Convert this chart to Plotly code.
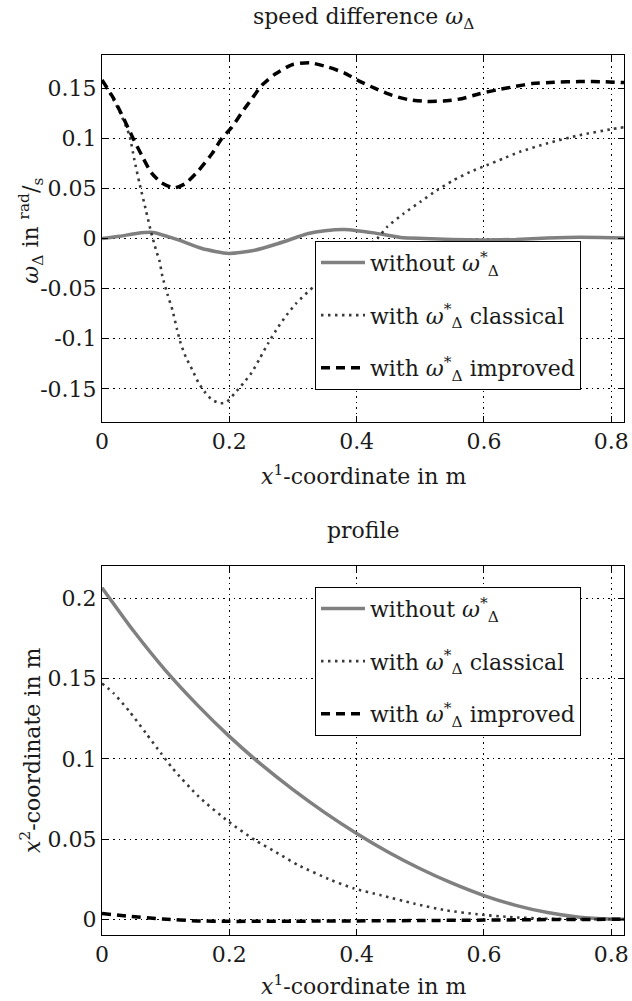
import plotly.graph_objects as go

# ---------------- data ----------------
# top panel: speed difference
top_x_without = [0, 0.028, 0.054, 0.08, 0.105, 0.121, 0.157, 0.199, 0.24, 0.277, 0.305, 0.324, 0.35, 0.381,
                 0.427, 0.469, 0.506, 0.55, 0.6, 0.65, 0.7, 0.75, 0.8, 0.82]
top_y_without = [0, 0.0023, 0.005, 0.006, 0.0016, -0.0017, -0.010, -0.0149, -0.0117, -0.005, 0.001, 0.005, 0.0078,
                 0.009, 0.0056, 0.001, 0.0, -0.001, -0.0015, -0.001, 0.0004, 0.0012, 0.0008, 0.0005]

top_x_classical = [0, 0.015, 0.028, 0.043, 0.051, 0.059, 0.069, 0.077, 0.082, 0.0857, 0.09, 0.095, 0.103, 0.1106,
                   0.118, 0.1236, 0.1315, 0.1418, 0.152, 0.1626, 0.173, 0.186, 0.196, 0.209, 0.222, 0.235, 0.248,
                   0.261, 0.277, 0.29, 0.305, 0.335, 0.36, 0.38, 0.40, 0.42, 0.4325, 0.448, 0.474, 0.5, 0.526,
                   0.552, 0.578, 0.604, 0.63, 0.656, 0.7, 0.75, 0.8, 0.82]
top_y_classical = [0.157, 0.142, 0.126, 0.103, 0.078, 0.0548, 0.0282, 0.0066, -0.005, -0.0133, -0.0216, -0.038,
                   -0.056, -0.0714, -0.091, -0.1046, -0.118, -0.131, -0.1444, -0.154, -0.161, -0.1643, -0.163,
                   -0.154, -0.1444, -0.134, -0.1195, -0.1046, -0.088, -0.0764, -0.0647, -0.0465, -0.034, -0.025,
                   -0.015, -0.006, 0.0, 0.0116, 0.0249, 0.0365, 0.048, 0.058, 0.0663, 0.073, 0.0797, 0.0863, 0.095,
                   0.103, 0.109, 0.111]

top_x_improved = [0, 0.017, 0.033, 0.048, 0.064, 0.077, 0.0925, 0.113, 0.131, 0.152, 0.173, 0.188, 0.204, 0.22,
                  0.235, 0.251, 0.272, 0.298, 0.326, 0.355, 0.381, 0.404, 0.43, 0.456, 0.482, 0.51, 0.536, 0.565,
                  0.593, 0.622, 0.65, 0.676, 0.71, 0.75, 0.79, 0.82]
top_y_improved = [0.158, 0.141, 0.121, 0.101, 0.081, 0.066, 0.056, 0.0504, 0.0548, 0.068, 0.0847, 0.0996, 0.111,
                  0.126, 0.139, 0.1527, 0.164, 0.1732, 0.1753, 0.171, 0.165, 0.157, 0.1494, 0.1427, 0.1384, 0.1367,
                  0.137, 0.1394, 0.1444, 0.1484, 0.1517, 0.1545, 0.1558, 0.1565, 0.1563, 0.1555]

# bottom panel: profile
bot_x_without = [0, 0.05, 0.1, 0.15, 0.2, 0.25, 0.3, 0.35, 0.4, 0.45, 0.5, 0.55, 0.6, 0.65, 0.7, 0.75, 0.8, 0.82]
bot_y_without = [0.2067, 0.1795, 0.1550, 0.1335, 0.1140, 0.0965, 0.0808, 0.0665, 0.0535, 0.0418, 0.0315, 0.0225,
                 0.0148, 0.0087, 0.0042, 0.0013, 0.0001, 0.0]

bot_x_classical = [0, 0.018, 0.043, 0.069, 0.0925, 0.111, 0.152, 0.199, 0.24, 0.277, 0.308, 0.36, 0.396, 0.438,
                   0.49, 0.54, 0.59, 0.64, 0.7, 0.75, 0.8, 0.82]
bot_y_classical = [0.147, 0.141, 0.1296, 0.116, 0.1036, 0.094, 0.0764, 0.0608, 0.0494, 0.041, 0.0338, 0.0244,
                   0.0192, 0.015, 0.0098, 0.0056, 0.0031, 0.0014, 0.0003, 0.0, 0.0, 0.0]

bot_x_improved = [0, 0.038, 0.0955, 0.15, 0.2, 0.3, 0.4, 0.5, 0.6, 0.7, 0.82]
bot_y_improved = [0.0036, 0.0021, 0.0002, -0.001, -0.0013, -0.0012, -0.0010, -0.0008, -0.0005, -0.0002, 0.0]

x_ticks = [0, 0.2, 0.4, 0.6, 0.8]
x_ticklabels = ["0", "0.2", "0.4", "0.6", "0.8"]
top_y_ticks = [-0.15, -0.1, -0.05, 0, 0.05, 0.1, 0.15]
top_y_ticklabels = ["-0.15", "-0.1", "-0.05", "0", "0.05", "0.1", "0.15"]
bot_y_ticks = [0, 0.05, 0.1, 0.15, 0.2]
bot_y_ticklabels = ["0", "0.05", "0.1", "0.15", "0.2"]

legend_names = ["without <i>ω</i><sup>*</sup><sub>Δ</sub>",
                "with <i>ω</i><sup>*</sup><sub>Δ</sub> classical",
                "with <i>ω</i><sup>*</sup><sub>Δ</sub> improved"]

# ---------------- styling ----------------
FONT = "DejaVu Serif"
TXT = "#1a1a1a"
GRAY = "#808080"
DOTC = "#3a3a3a"
styles = [dict(color=GRAY, width=3.5, shape="spline", smoothing=0.6),
          dict(color=DOTC, width=2.6, dash="2.5px,4.5px", shape="spline", smoothing=0.6),
          dict(color="black", width=3.5, dash="9px,6px", shape="spline", smoothing=0.6)]

fig = go.Figure()
top_series = [(top_x_without, top_y_without), (top_x_classical, top_y_classical), (top_x_improved, top_y_improved)]
bot_series = [(bot_x_without, bot_y_without), (bot_x_classical, bot_y_classical), (bot_x_improved, bot_y_improved)]

for i, (xs, ys) in enumerate(top_series):
    fig.add_trace(go.Scatter(x=xs, y=ys, mode="lines", name=legend_names[i], line=styles[i],
                             xaxis="x", yaxis="y", legend="legend", legendgroup="t%d" % i))
for i, (xs, ys) in enumerate(bot_series):
    fig.add_trace(go.Scatter(x=xs, y=ys, mode="lines", name=legend_names[i], line=styles[i],
                             xaxis="x2", yaxis="y2", legend="legend2", legendgroup="b%d" % i))

axis_common = dict(showline=True, linecolor="black", linewidth=1, mirror="ticks", ticks="inside", ticklen=6,
                   tickcolor="black", showgrid=True, gridcolor="black", gridwidth=1, griddash="1.5px,4px",
                   zeroline=False, ticklabeloverflow="allow", tickfont=dict(family=FONT, size=22, color=TXT))

top_dom = [0.583, 1.0]
bot_dom = [0.0, 0.4193]

leg_common = dict(xanchor="left", yanchor="top", bgcolor="white", bordercolor="black", borderwidth=1,
                  font=dict(family=FONT, size=22, color=TXT), tracegroupgap=21, traceorder="grouped",
                  itemwidth=44)

fig.update_layout(
    width=632, height=1001,
    margin=dict(l=102, r=3, t=55, b=66),
    paper_bgcolor="white", plot_bgcolor="white",
    font=dict(family=FONT, size=22, color=TXT),
    xaxis=dict(domain=[0, 1], anchor="y", range=[0, 0.82], tickvals=x_ticks, ticktext=x_ticklabels, **axis_common),
    yaxis=dict(domain=top_dom, anchor="x", range=[-0.183, 0.183], tickvals=top_y_ticks,
               ticktext=top_y_ticklabels, **axis_common),
    xaxis2=dict(domain=[0, 1], anchor="y2", range=[0, 0.82], tickvals=x_ticks, ticktext=x_ticklabels, **axis_common),
    yaxis2=dict(domain=bot_dom, anchor="x2", range=[-0.0098, 0.2202], tickvals=bot_y_ticks,
                ticktext=bot_y_ticklabels, **axis_common),
    legend=dict(x=0.408, y=0.789, **leg_common),
    legend2=dict(x=0.408, y=0.3958, **leg_common),
    showlegend=True,
)

ann = dict(xref="paper", yref="paper", showarrow=False, font=dict(family=FONT, size=22, color=TXT))
fig.add_annotation(text="speed difference <i>ω</i><sub>Δ</sub>", x=0.5, y=1.042, xanchor="center",
                   yanchor="middle", **ann)
fig.add_annotation(text="profile", x=0.5, y=0.460, xanchor="center", yanchor="middle", **ann)
fig.add_annotation(text="<i>x</i><sup>1</sup>-coordinate in m", x=0.5, y=0.5227, xanchor="center",
                   yanchor="middle", **ann)
fig.add_annotation(text="<i>x</i><sup>1</sup>-coordinate in m", x=0.5, y=-0.0565, xanchor="center",
                   yanchor="middle", **ann)
fig.add_annotation(text="<i>ω</i><sub>Δ</sub> in <sup>rad</sup>/<sub>s</sub>", x=-0.1366, y=0.80,
                   xanchor="center", yanchor="middle", textangle=-90, **ann)
fig.add_annotation(text="<i>x</i><sup>2</sup>-coordinate in m", x=-0.1366, y=0.21,
                   xanchor="center", yanchor="middle", textangle=-90, **ann)

fig.write_html("out.html")
